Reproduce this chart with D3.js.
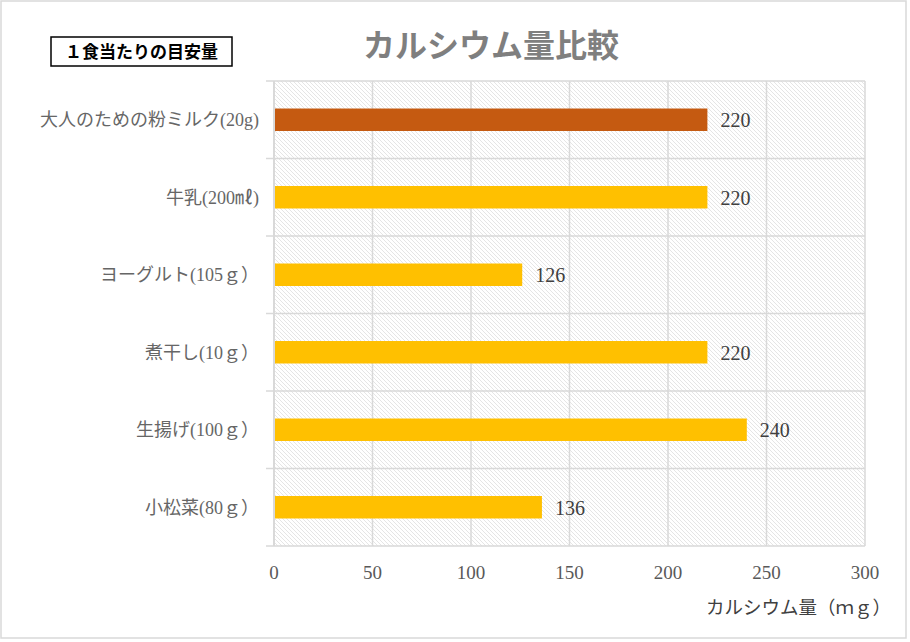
<!DOCTYPE html>
<html><head><meta charset="utf-8">
<script src="https://cdn.jsdelivr.net/npm/d3@7"></script>
<style>
html,body{margin:0;padding:0;background:#fff;}
svg{display:block;}
</style></head>
<body>
<svg id="c" width="910" height="642"></svg>
<script>
const categories = ["大人のための粉ミルク(20g)","牛乳(200㎖)","ヨーグルト(105ｇ）","煮干し(10ｇ）","生揚げ(100ｇ）","小松菜(80ｇ）"];
const values = [220,220,126,220,240,136];
const barColors = ["#c55a11","#ffc000","#ffc000","#ffc000","#ffc000","#ffc000"];
const xTicks = [0,50,100,150,200,250,300];
const titleText = "カルシウム量比較";
const noteText = "１食当たりの目安量";
const xTitle = "カルシウム量（ｍｇ）";

const serif = "'Liberation Serif','DejaVu Serif','Noto Sans CJK JP',serif";
const sans = "'Noto Sans CJK JP','Noto Sans',sans-serif";

const svg = d3.select("#c");
const W = 910, H = 642;
const m = {left:274, right:45, top:81, bottom:96};

// outer border
svg.append("rect").attr("x",1).attr("y",1).attr("width",W-5).attr("height",H-5)
  .attr("fill","#fff").attr("stroke","#d9d9d9").attr("stroke-width",1.5);

const defs = svg.append("defs");
const pat = defs.append("pattern").attr("id","hatch").attr("patternUnits","userSpaceOnUse")
  .attr("width",4).attr("height",4);
pat.append("rect").attr("width",4).attr("height",4).attr("fill","#fff");
pat.append("path").attr("d","M-1,-1 L5,5 M-1,3 L1,5 M3,-1 L5,1")
  .attr("stroke","#e2e2e2").attr("stroke-width",0.9);

const x = d3.scaleLinear().domain([0,300]).range([m.left, W-m.right]);
const y = d3.scaleBand().domain(categories).range([m.top, H-m.bottom]).paddingInner(0.71).paddingOuter(0.355);
const yb = d3.scaleBand().domain(categories).range([m.top, H-m.bottom]);

// plot background
svg.append("rect").attr("x",x(0)).attr("y",m.top).attr("width",x(300)-x(0)).attr("height",H-m.bottom-m.top)
  .attr("fill","url(#hatch)");

// vertical gridlines
svg.append("g").selectAll("line").data(xTicks).join("line")
  .attr("x1",d=>x(d)).attr("x2",d=>x(d)).attr("y1",m.top).attr("y2",H-m.bottom)
  .attr("stroke","#d9d9d9").attr("stroke-width",1.5);
// horizontal category lines
const bounds = categories.map(c=>yb(c)).concat([H-m.bottom]);
svg.append("g").selectAll("line").data(bounds).join("line")
  .attr("x1",x(0)-8).attr("x2",x(300)).attr("y1",d=>d).attr("y2",d=>d)
  .attr("stroke","#d9d9d9").attr("stroke-width",1.5);
svg.append("line").attr("x1",x(0)).attr("x2",x(0)).attr("y1",m.top).attr("y2",H-m.bottom)
  .attr("stroke","#d9d9d9").attr("stroke-width",2);

// bars
svg.append("g").selectAll("rect").data(values).join("rect")
  .attr("x",x(0)+1).attr("y",(d,i)=>y(categories[i]))
  .attr("width",d=>x(d)-x(0)-1).attr("height",y.bandwidth())
  .attr("fill",(d,i)=>barColors[i]);

// value labels
svg.append("g").selectAll("text").data(values).join("text")
  .attr("x",d=>x(d)+13).attr("y",(d,i)=>y(categories[i])+y.bandwidth()/2)
  .attr("dy","0.38em").attr("font-family",serif).attr("font-size",20).attr("fill","#404040")
  .text(d=>d);

// category labels
svg.append("g").selectAll("text").data(categories).join("text")
  .attr("x",x(0)-15).attr("y",d=>y(d)+y.bandwidth()/2).attr("dy","0.36em")
  .attr("text-anchor","end").attr("font-family",serif).attr("font-size",18).attr("fill","#666666")
  .text(d=>d);

// x tick labels
svg.append("g").selectAll("text").data(xTicks).join("text")
  .attr("x",d=>x(d)).attr("y",572).attr("dy","0.36em").attr("text-anchor","middle")
  .attr("font-family",serif).attr("font-size",19).attr("fill","#595959").text(d=>d);

// x axis title
svg.append("text").attr("x",891).attr("y",607).attr("dy","0.36em").attr("text-anchor","end")
  .attr("font-family",serif).attr("font-size",18.5).attr("fill","#404040").text(xTitle);

// title
svg.append("text").attr("x",491).attr("y",45).attr("dy","0.36em").attr("text-anchor","middle")
  .attr("font-family",sans).attr("font-weight","bold").attr("font-size",32).attr("fill","#7f7f7f")
  .text(titleText);

// note box
svg.append("rect").attr("x",51).attr("y",37).attr("width",181).attr("height",29)
  .attr("fill","#fff").attr("stroke","#000").attr("stroke-width",1.5);
svg.append("text").attr("x",141.5).attr("y",52).attr("dy","0.36em").attr("text-anchor","middle")
  .attr("font-family",sans).attr("font-weight","bold").attr("font-size",17).attr("fill","#000")
  .text(noteText);
</script>
</body></html>
